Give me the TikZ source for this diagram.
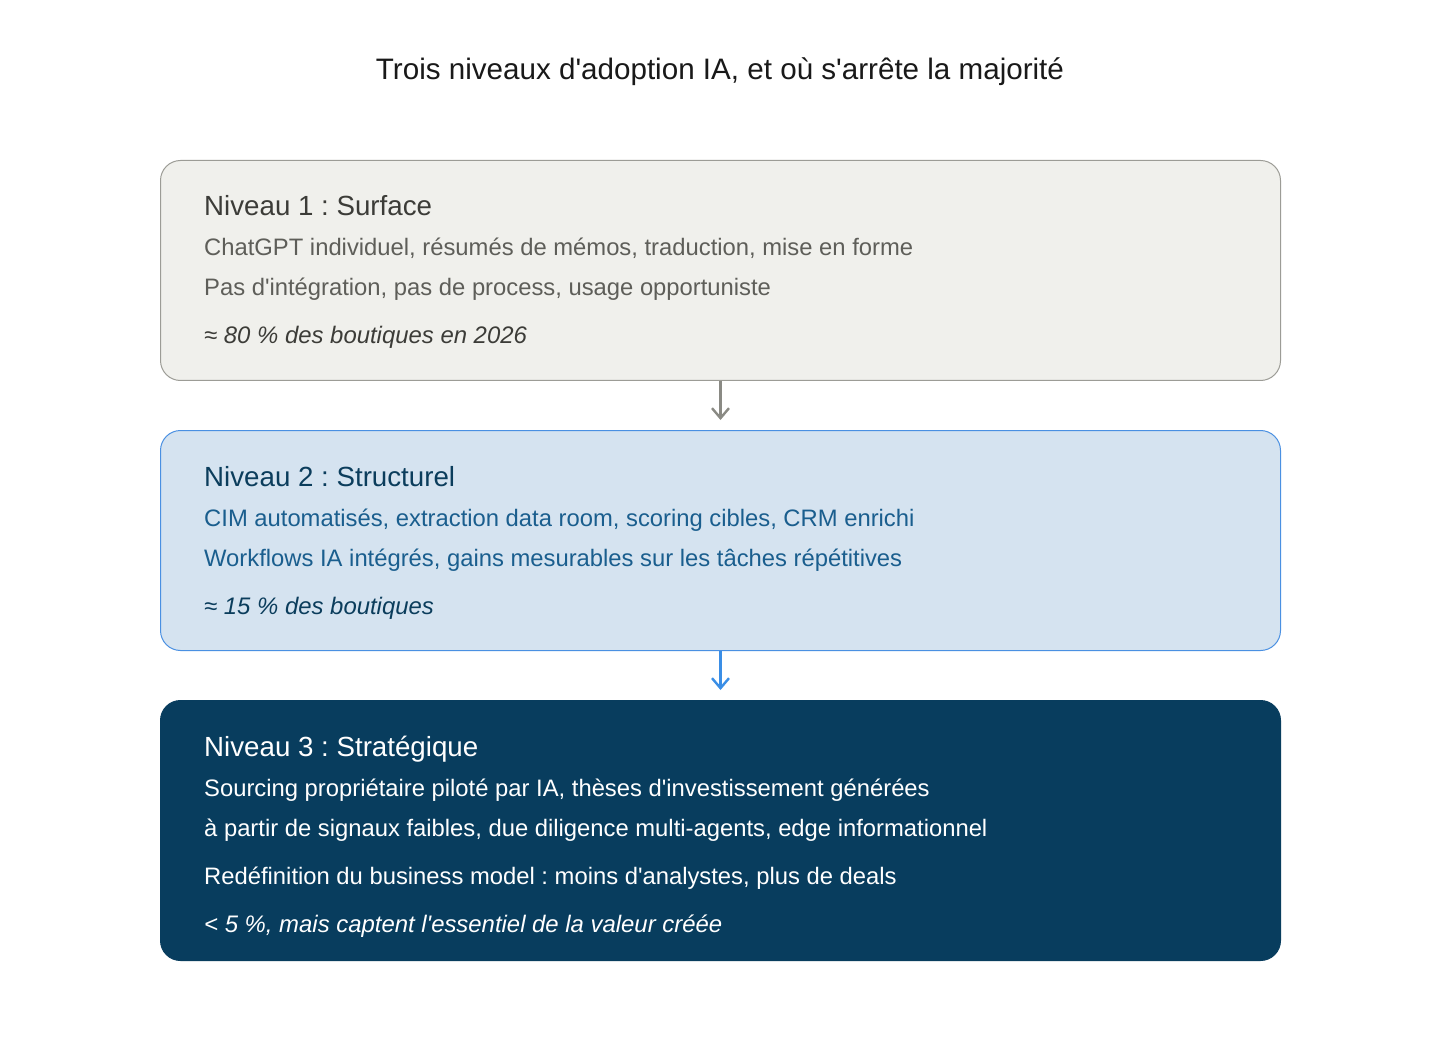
\documentclass[tikz,border=0pt]{standalone}
\usepackage{fontspec}
\setmainfont{Liberation Sans}
\usetikzlibrary{arrows.meta}
\newcommand{\sq}{\textquotesingle}
\definecolor{bgA}{HTML}{F0F0EC}
\definecolor{bdA}{HTML}{9C9C96}
\definecolor{hdA}{HTML}{3C3C38}
\definecolor{txA}{HTML}{5E5E59}
\definecolor{bgB}{HTML}{D5E3F0}
\definecolor{bdB}{HTML}{4A90E2}
\definecolor{hdB}{HTML}{0B3D5C}
\definecolor{txB}{HTML}{1A5E8E}
\definecolor{bgC}{HTML}{083D5E}
\definecolor{arA}{HTML}{8A8A84}
\definecolor{arB}{HTML}{3A8EE6}
\tikzset{
  lvlbox/.style={rounded corners=20pt, line width=1pt, minimum width=1120pt, anchor=north west, inner sep=0pt},
  hd/.style={anchor=base west, inner sep=0pt, font=\fontsize{27.7}{32}\selectfont},
  bd/.style={anchor=base west, inner sep=0pt, font=\fontsize{23.8}{28}\selectfont},
  it/.style={anchor=base west, inner sep=0pt, font=\fontsize{23.9}{28}\selectfont\itshape},
  conn/.style={line width=2.4pt, -{Straight Barb[length=10pt,width=17pt,line width=2.4pt]}},
}
\begin{document}
\frenchspacing
\begin{tikzpicture}[x=1pt,y=-1pt]
\useasboundingbox (0,0) rectangle (1440,1040);
\fill[white] (0,0) rectangle (1440,1040);
\node[anchor=base, inner sep=0pt, font=\fontsize{29.6}{34}\selectfont, text=black!90] (title) at (720,80) {Trois niveaux d\sq adoption IA, et où s\sq arrête la majorité};

\node[lvlbox, fill=bgA, draw=bdA, minimum height=220pt] (b1) at (160,160) {};
\node[hd, text=hdA] (h1) at (204,216) {Niveau 1 : Surface};
\node[bd, text=txA] (l11) at (204,256) {ChatGPT individuel, résumés de mémos, traduction, mise en forme};
\node[bd, text=txA] (l12) at (204,296) {Pas d\sq intégration, pas de process, usage opportuniste};
\node[it, text=hdA] (l13) at (204,344) {≈ 80 \% des boutiques en 2026};

\node[lvlbox, fill=bgB, draw=bdB, minimum height=220pt] (b2) at (160,430) {};
\node[hd, text=hdB] (h2) at (204,486) {Niveau 2 : Structurel};
\node[bd, text=txB] (l21) at (204,526) {CIM automatisés, extraction data room, scoring cibles, CRM enrichi};
\node[bd, text=txB] (l22) at (204,566) {Workflows IA intégrés, gains mesurables sur les tâches répétitives};
\node[it, text=hdB] (l23) at (204,614) {≈ 15 \% des boutiques};

\node[lvlbox, fill=bgC, draw=bgC, minimum height=260pt] (b3) at (160,700) {};
\node[hd, text=white] (h3) at (204,756) {Niveau 3 : Stratégique};
\node[bd, text=white] (l31) at (204,796) {Sourcing propriétaire piloté par IA, thèses d\sq investissement générées};
\node[bd, text=white] (l32) at (204,836) {à partir de signaux faibles, due diligence multi-agents, edge informationnel};
\node[bd, text=white] (l33) at (204,884) {Redéfinition du business model : moins d\sq analystes, plus de deals};
\node[it, text=white] (l34) at (204,932) {< 5 \%, mais captent l\sq essentiel de la valeur créée};

\draw[conn, draw=arA] (b1.south) -- ([yshift=10pt]b2.north);
\draw[conn, draw=arB] (b2.south) -- ([yshift=10pt]b3.north);
\end{tikzpicture}
\end{document}
